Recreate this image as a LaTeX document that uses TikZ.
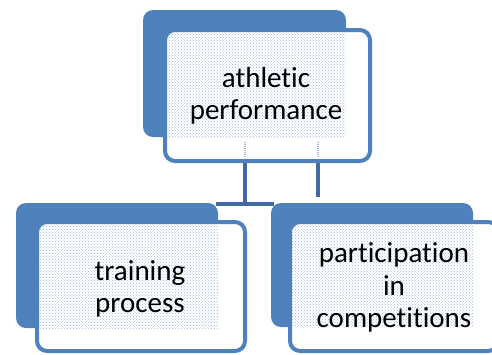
\documentclass[tikz,border=0pt]{standalone}
\usepackage{fontspec}
\setmainfont[Ligatures={NoCommon}]{Carlito}
\usetikzlibrary{patterns}
\definecolor{boxblue}{HTML}{4F81BD}
\definecolor{linkblue}{HTML}{416BA0}
\definecolor{dotblue}{HTML}{A0BADC}
\tikzset{
  backbox/.style={fill=boxblue, draw=none, rounded corners=10pt, inner sep=0pt},
  frontbox/.style={fill=white, draw=boxblue, line width=4pt, rounded corners=10pt, inner sep=0pt},
  link/.style={draw=linkblue, line width=3.5pt},
  ghost/.style={draw=dotblue, line width=2pt, dash pattern=on 1pt off 1pt},
  label/.style={align=center, font=\fontsize{29}{32.5}\selectfont, inner sep=0pt},
  dots/.style={pattern=crosshatch dots, pattern color=dotblue}
}
\begin{document}
\begin{tikzpicture}[x=1pt, y=-1pt]
\useasboundingbox (0,0) rectangle (492,354);
% connector coordinates
\coordinate (pL) at (245,137);
\coordinate (pR) at (318,137);
\coordinate (jL) at (245,204);
\coordinate (bL) at (216,204);
\coordinate (bR) at (274,204);
\coordinate (eR) at (318,197);
% connectors
\draw[link] (pL) -- (jL);
\draw[link] (bL) -- (bR);
\draw[link] (pR) -- (eR);
% back boxes
\node[backbox, minimum width=203pt, minimum height=127pt] (pback) at (244.5,73.5) {};
\node[backbox, minimum width=202pt, minimum height=125pt] (lback) at (117,265.5) {};
\node[backbox, minimum width=202pt, minimum height=124pt] (rback) at (372,265) {};
% front boxes
\node[frontbox, minimum width=205pt, minimum height=131pt] (pfront) at (267.5,95.5) {};
\node[frontbox, minimum width=208pt, minimum height=129pt] (lfront) at (141,286.5) {};
\node[frontbox, minimum width=208pt, minimum height=129pt] (rfront) at (394,286.5) {};
% dotted overlap regions
\begin{scope}
\clip[rounded corners=8pt] (167,32) rectangle (368,159);
\fill[dots] (pback.north west) rectangle (pback.south east);
\end{scope}
\begin{scope}
\clip[rounded corners=8pt] (39,224) rectangle (243,349);
\fill[dots] (lback.north west) rectangle (lback.south east);
\end{scope}
\begin{scope}
\clip[rounded corners=8pt] (292,224) rectangle (496,349);
\fill[dots] (rback.north west) rectangle (rback.south east);
\end{scope}
% connectors seen through the top box
\draw[ghost] (245,142) -- (245,158);
\draw[ghost] (318,142) -- (318,158);
% labels
\node[label] (ptext) at (266,96) {athletic\\performance};
\node[label] (ltext) at (140,289) {training\\process};
\node[label] (rtext) at (394,287.5) {participation\\in\\competitions};
\end{tikzpicture}
\end{document}
